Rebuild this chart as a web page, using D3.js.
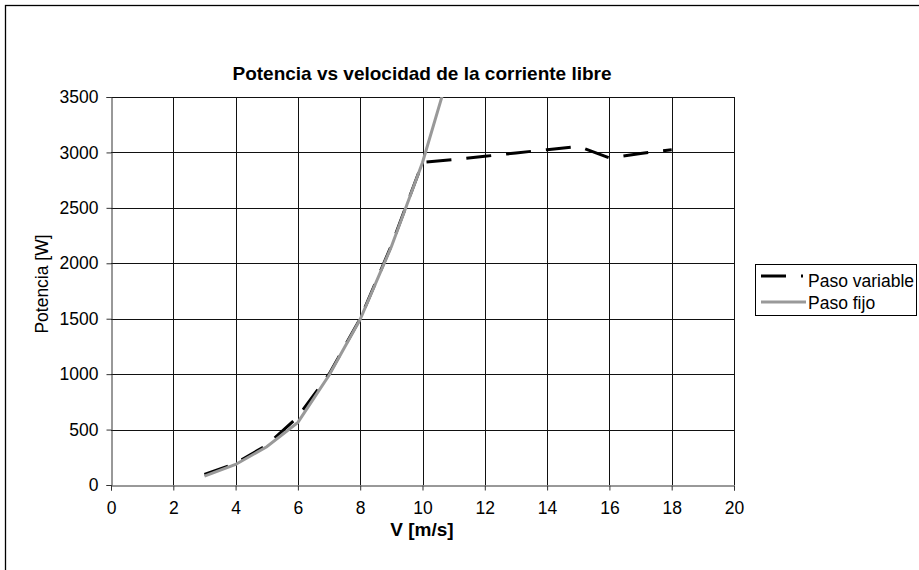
<!DOCTYPE html>
<html>
<head>
<meta charset="utf-8">
<script src="https://cdn.jsdelivr.net/npm/d3@7"></script>
<style>
  body { margin: 0; background: #fff; }
  svg { display: block; font-family: "Liberation Sans", Arial, sans-serif; }
</style>
</head>
<body>
<div id="chart"></div>
<script>
// velocidades [m/s]
let velVariable = [3, 4, 5, 6, 7, 8, 9, 10, 11, 12, 13, 14, 15, 16, 17, 18]
let potVariable = [95, 195, 360, 615, 1000, 1500, 2160, 2910, 2935, 2965, 2995, 3025, 3055, 2950, 2990, 3025]
let velFijo = [3, 4, 5, 6, 7, 8, 9, 10, 11]
let potFijo = [80, 185, 345, 565, 990, 1495, 2150, 2910, 3860]
let xTicks = [0, 2, 4, 6, 8, 10, 12, 14, 16, 18, 20]
let yTicks = [0, 500, 1000, 1500, 2000, 2500, 3000, 3500]

let width = 919, height = 570
let margin = { top: 97, right: 185, bottom: 85, left: 111 }

let svg = d3.select("#chart").append("svg")
  .attr("width", width)
  .attr("height", height)

// marco exterior
svg.append("rect")
  .attr("x", 5.5).attr("y", 5.5)
  .attr("width", 930).attr("height", 600)
  .attr("fill", "none")
  .attr("stroke", "#000")
  .attr("stroke-width", 1.3)

let x = d3.scaleLinear().domain([0, 20]).range([margin.left, width - margin.right])
let y = d3.scaleLinear().domain([0, 3500]).range([height - margin.bottom, margin.top])

// grid
let grid = svg.append("g").attr("stroke", "#111").attr("stroke-width", 1)
grid.selectAll(".vx").data(xTicks.slice(1)).enter().append("line")
  .attr("x1", d => Math.round(x(d)) + 0.5).attr("x2", d => Math.round(x(d)) + 0.5)
  .attr("y1", y(0)).attr("y2", y(3500))
grid.selectAll(".hy").data(yTicks.slice(1)).enter().append("line")
  .attr("x1", x(0)).attr("x2", x(20))
  .attr("y1", d => Math.round(y(d)) + 0.5).attr("y2", d => Math.round(y(d)) + 0.5)

// ejes
let gX = svg.append("g")
  .attr("transform", "translate(0," + (Math.round(y(0)) + 0.5) + ")")
  .call(d3.axisBottom(x).tickValues(xTicks).tickSize(5).tickPadding(11).tickFormat(d3.format("d")))
let gY = svg.append("g")
  .attr("transform", "translate(" + (Math.round(x(0)) + 0.5) + ",0)")
  .call(d3.axisLeft(y).tickValues(yTicks).tickSize(5).tickPadding(8).tickFormat(d3.format("d")))

;[gX, gY].forEach(g => {
  g.select(".domain").attr("stroke", "#333")
  g.selectAll(".tick line").attr("stroke", "#333")
  g.selectAll("text")
    .attr("fill", "#000")
    .style("font-size", "17.5px")
    .style("font-family", "'Liberation Sans', Arial, sans-serif")
})

// series
let clip = svg.append("clipPath").attr("id", "plotClip")
  .append("rect")
  .attr("x", x(0)).attr("y", y(3500))
  .attr("width", x(20) - x(0)).attr("height", y(0) - y(3500))

let line = d3.line().x(d => x(d[0])).y(d => y(d[1]))

svg.append("path")
  .attr("clip-path", "url(#plotClip)")
  .attr("d", line(velVariable.map((v, i) => [v, potVariable[i]])))
  .attr("fill", "none")
  .attr("stroke", "#000")
  .attr("stroke-width", 3)
  .attr("stroke-dasharray", "25,15")

svg.append("path")
  .attr("clip-path", "url(#plotClip)")
  .attr("d", line(velFijo.map((v, i) => [v, potFijo[i]])))
  .attr("fill", "none")
  .attr("stroke", "#999")
  .attr("stroke-width", 3)

// textos
svg.append("text")
  .attr("x", 422).attr("y", 80)
  .attr("text-anchor", "middle")
  .style("font-size", "19px").style("font-weight", "bold")
  .text("Potencia vs velocidad de la corriente libre")

svg.append("text")
  .attr("x", 422).attr("y", 536)
  .attr("text-anchor", "middle")
  .style("font-size", "19px").style("font-weight", "bold")
  .text("V [m/s]")

svg.append("text")
  .attr("transform", "translate(48,284) rotate(-90)")
  .attr("text-anchor", "middle")
  .style("font-size", "17.5px")
  .text("Potencia [W]")

// leyenda
let legend = svg.append("g")
legend.append("rect")
  .attr("x", 755.5).attr("y", 264.5)
  .attr("width", 161).attr("height", 51)
  .attr("fill", "#fff").attr("stroke", "#000")

let items = [
  { name: "Paso variable", color: "#000", dash: "25,15", ly: 276, ty: 287 },
  { name: "Paso fijo", color: "#999", dash: null, ly: 302, ty: 309 }
]
items.forEach(it => {
  legend.append("line")
    .attr("x1", 761).attr("x2", it.dash ? 803 : 806)
    .attr("y1", it.ly).attr("y2", it.ly)
    .attr("stroke", it.color).attr("stroke-width", 3)
    .attr("stroke-dasharray", it.dash)
  legend.append("text")
    .attr("x", 808).attr("y", it.ty)
    .style("font-size", "17.5px")
    .text(it.name)
})
</script>
</body>
</html>
